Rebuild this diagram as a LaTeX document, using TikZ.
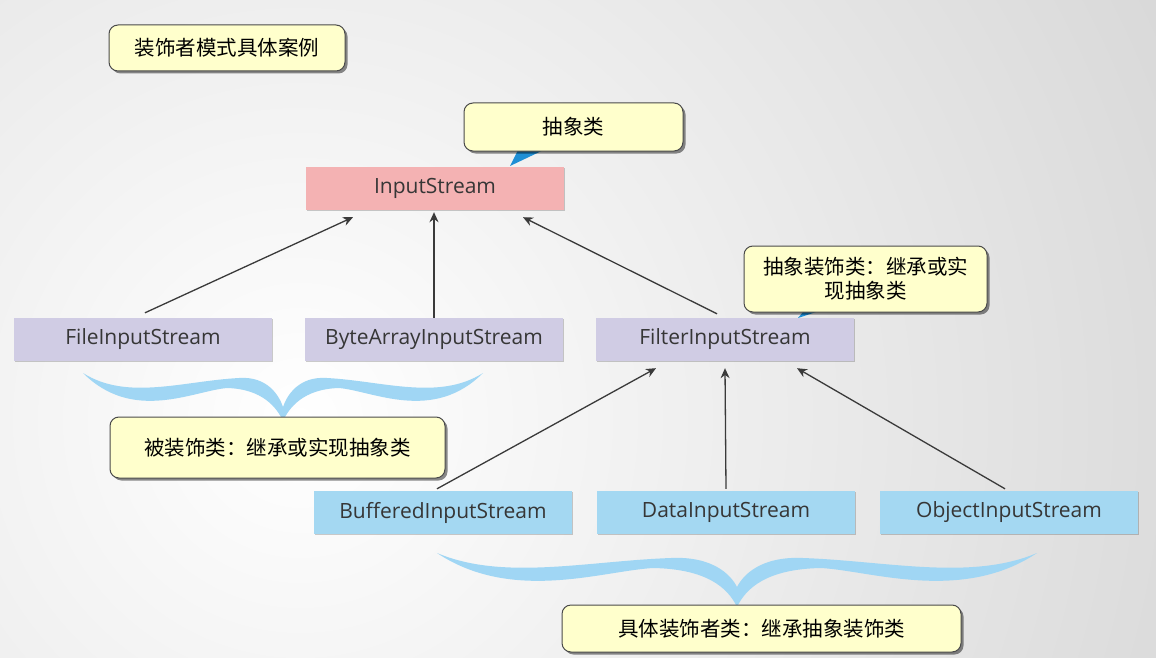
\documentclass[tikz,border=0pt]{standalone}
\usepackage{fontspec}
\setmainfont{Open Sans}
\newfontfamily\cjk{Noto Sans CJK SC}
\usetikzlibrary{shadows,arrows.meta,calc}
\definecolor{bgout}{HTML}{D9D9D9}
\definecolor{callfill}{HTML}{FFFFCC}
\definecolor{callline}{HTML}{4A4A4A}
\definecolor{pinkc}{HTML}{F4B2B3}
\definecolor{lavc}{HTML}{D0CCE4}
\definecolor{bluec}{HTML}{A4D8F2}
\definecolor{bracec}{HTML}{A0D6F4}
\definecolor{txtc}{HTML}{363636}
\definecolor{arrc}{HTML}{3A3A3A}
\definecolor{ptrc}{HTML}{1E8FD5}
\newcommand\mybrace[4]{% cx, tip y, half width, depth
  \fill[bracec]
    ({#1-#3},{#2}) .. controls ({#1-0.78*#3},{#2+28}) and ({#1-0.5*#3},{#2+8}) .. ({#1-0.22*#3},{#2+5})
    .. controls ({#1-0.08*#3},{#2+3}) and ({#1-0.02*#3},{#2+22}) .. ({#1},{#2+34})
    .. controls ({#1+0.02*#3},{#2+22}) and ({#1+0.08*#3},{#2+3}) .. ({#1+0.22*#3},{#2+5})
    .. controls ({#1+0.5*#3},{#2+8}) and ({#1+0.78*#3},{#2+28}) .. ({#1+#3},{#2})
    .. controls ({#1+0.75*#3},{#2+50}) and ({#1+0.45*#3},{#2+18}) .. ({#1+0.28*#3},{#2+15})
    .. controls ({#1+0.1*#3},{#2+16}) and ({#1+0.03*#3},{#2+35}) .. ({#1},{#2+#4})
    .. controls ({#1-0.03*#3},{#2+35}) and ({#1-0.1*#3},{#2+16}) .. ({#1-0.28*#3},{#2+15})
    .. controls ({#1-0.45*#3},{#2+18}) and ({#1-0.75*#3},{#2+50}) .. ({#1-#3},{#2}) -- cycle;
}
\tikzset{
  callout/.style={draw=callline, line width=1pt, fill=callfill, rounded corners=9pt,
    drop shadow={shadow xshift=2.5pt, shadow yshift=-2.5pt, opacity=0.45, fill=black},
    font=\cjk\fontsize{20.5}{24}\selectfont, text=black, align=center, inner sep=0pt},
  cls/.style={minimum width=258pt, minimum height=43pt, inner sep=0pt,
    drop shadow={shadow xshift=1pt, shadow yshift=-1pt, opacity=0.2, fill=black},
    font=\fontsize{21}{24}\selectfont, text=txtc},
  arr/.style={draw=arrc, line width=1.3pt, -{Stealth[length=10pt,width=9pt]}}
}
\begin{document}
\begin{tikzpicture}[x=1pt,y=-1pt]
\useasboundingbox (0,0) rectangle (1156,658);
% background
\begin{scope}
\clip (0,0) rectangle (1156,658);
\fill[bgout] (0,0) rectangle (1156,658);
\shade[inner color=white, outer color=bgout] (300,420) circle (950);
\end{scope}
% braces
\mybrace{283}{373}{200}{48}
\mybrace{737}{553}{300}{54}
% pointers
\fill[ptrc] (520,146) -- (552,146) -- (510,166) -- cycle;
\fill[ptrc] (808,306) -- (834,306) -- (798,318) -- cycle;
% class boxes
\node[cls, fill=pinkc] (input) at (435,188.5) {InputStream};
\node[cls, fill=lavc] (file) at (143,339.5) {FileInputStream};
\node[cls, fill=lavc] (byte) at (434,339.5) {ByteArrayInputStream};
\node[cls, fill=lavc] (filter) at (725,339.5) {FilterInputStream};
\node[cls, fill=bluec] (buff) at (443,512.5) {BufferedInputStream};
\node[cls, fill=bluec] (data) at (726,512.5) {DataInputStream};
\node[cls, fill=bluec] (obj) at (1009,512.5) {ObjectInputStream};
% callouts
\node[callout, minimum width=236pt, minimum height=46pt] (title) at (227,48) {装饰者模式具体案例};
\node[callout, minimum width=219pt, minimum height=48pt] (abs) at (573.5,127) {抽象类};
\node[callout, minimum width=243pt, minimum height=66pt] (dec) at (865.5,279) {抽象装饰类：继承或实\\现抽象类};
\node[callout, minimum width=335pt, minimum height=61pt] (bei) at (277.5,447.5) {被装饰类：继承或实现抽象类};
\node[callout, minimum width=399pt, minimum height=47pt] (ju) at (761.5,628.5) {具体装饰者类：继承抽象装饰类};
% arrows
\draw[arr] ([xshift=2pt,yshift=5pt]file.north) -- ([xshift=-82pt,yshift=-7pt]input.south);
\draw[arr] (byte.north) -- ([xshift=-1pt,yshift=-2pt]input.south);
\draw[arr] ([xshift=-8pt,yshift=4pt]filter.north) -- ([xshift=88pt,yshift=-7pt]input.south);
\draw[arr] ([xshift=-6pt,yshift=2pt]buff.north) -- ([xshift=-69pt,yshift=-7pt]filter.south);
\draw[arr] ([yshift=2pt]data.north) -- ([yshift=-7pt]filter.south);
\draw[arr] ([xshift=-4pt,yshift=2pt]obj.north) -- ([xshift=72pt,yshift=-7pt]filter.south);
\end{tikzpicture}
\end{document}
